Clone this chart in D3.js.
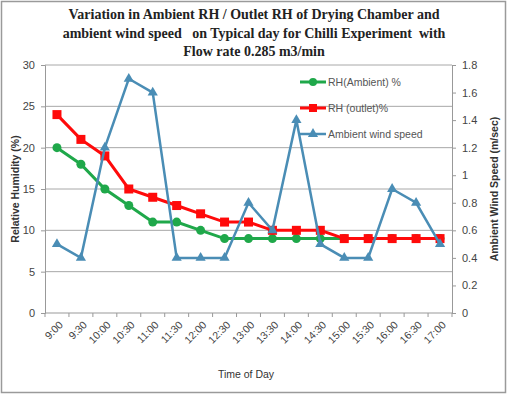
<!DOCTYPE html>
<html>
<head>
<meta charset="utf-8">
<script src="https://cdn.jsdelivr.net/npm/d3@7"></script>
<style>
  body { margin: 0; background: #fff; }
  svg { display: block; }
  .title { font-family: "Liberation Serif", "DejaVu Serif", serif; white-space: pre; }
  .lab { font-family: "Liberation Sans", Arial, sans-serif; }
</style>
</head>
<body>
<div id="chart"></div>
<script>
const times = ["9:00","9:30","10:00","10:30","11:00","11:30","12:00","12:30","13:00",
  "13:30","14:00","14:30","15:00","15:30","16:00","16:30","17:00"];
const rhAmbient = [20,18,15,13,11,11,10,9,9,9,9,9,9,9,9,9,9];
const rhOutlet = [24,21,19,15,14,13,12,11,11,10,10,10,9,9,9,9,9];
const windSpeed = [0.5,0.4,1.2,1.7,1.6,0.4,0.4,0.4,0.8,0.6,1.4,0.5,0.4,0.4,0.9,0.8,0.5];
const leftTicks = [0,5,10,15,20,25,30];
const rightTicks = [0,0.2,0.4,0.6,0.8,1,1.2,1.4,1.6,1.8];
const titleLines = ["Variation in Ambient RH / Outlet RH of Drying Chamber and",
  "ambient wind speed   on Typical day for Chilli Experiment  with",
  "Flow rate 0.285 m3/min"];

const width = 507, height = 394;
const margin = {left: 45, right: 55, top: 65, bottom: 81};

const svg = d3.select("#chart").append("svg")
    .attr("width", width)
    .attr("height", height);

// frame
svg.append("rect")
    .attr("x", 1.5).attr("y", 1.5)
    .attr("width", width - 3).attr("height", height - 3)
    .attr("fill", "#fff").attr("stroke", "#9a9a9a").attr("stroke-width", 1.5);

const x = d3.scaleBand()
    .domain(times)
    .range([margin.left, width - margin.right]);

const yLeft = d3.scaleLinear()
    .domain([0, 30])
    .range([height - margin.bottom, margin.top]);

const yRight = d3.scaleLinear()
    .domain([0, 1.8])
    .range([height - margin.bottom, margin.top]);

// gridlines
svg.append("g")
    .selectAll("line")
    .data(leftTicks.filter(d => d > 0))
    .join("line")
    .attr("x1", margin.left).attr("x2", width - margin.right)
    .attr("y1", d => yLeft(d)).attr("y2", d => yLeft(d))
    .attr("stroke", "#a8a8a8").attr("stroke-width", 1);

// left axis
const leftAxis = svg.append("g")
    .attr("transform", `translate(${margin.left},0)`)
    .call(d3.axisLeft(yLeft).tickValues(leftTicks).tickSize(4).tickPadding(6));
leftAxis.select(".domain").attr("stroke", "#999");
leftAxis.selectAll(".tick line").attr("stroke", "#999");
leftAxis.selectAll("text").attr("class", "lab").attr("font-family", null)
    .attr("font-size", 11).attr("fill", "#444");

// right axis
const rightAxis = svg.append("g")
    .attr("transform", `translate(${width - margin.right},0)`)
    .call(d3.axisRight(yRight).tickValues(rightTicks).tickSize(4).tickPadding(6)
      .tickFormat(d => d3.format("~g")(d)));
rightAxis.select(".domain").attr("stroke", "#999");
rightAxis.selectAll(".tick line").attr("stroke", "#999");
rightAxis.selectAll("text").attr("class", "lab")
    .attr("font-size", 11).attr("fill", "#444");
leftAxis.attr("font-family", null);
rightAxis.attr("font-family", null);

// bottom axis
const xAxis = svg.append("g")
    .attr("transform", `translate(0,${height - margin.bottom})`);
xAxis.append("line")
    .attr("x1", margin.left).attr("x2", width - margin.right)
    .attr("stroke", "#999");
xAxis.selectAll(".tickmark")
    .data(times.concat(["end"]))
    .join("line")
    .attr("class", "tickmark")
    .attr("x1", (d, i) => margin.left + i * x.step())
    .attr("x2", (d, i) => margin.left + i * x.step())
    .attr("y1", 0).attr("y2", 4)
    .attr("stroke", "#999");
xAxis.selectAll(".lbl")
    .data(times)
    .join("text")
    .attr("class", "lab")
    .attr("transform", d => `translate(${x(d) + x.bandwidth() / 2 + 4},${10}) rotate(-45)`)
    .attr("text-anchor", "end")
    .attr("dy", "0.35em")
    .attr("font-size", 10.5)
    .attr("fill", "#444")
    .text(d => d);

const cx = d => x(d) + x.bandwidth() / 2;

// series
const lineLeft = d3.line().x((d, i) => cx(times[i])).y(d => yLeft(d));
const lineRight = d3.line().x((d, i) => cx(times[i])).y(d => yRight(d));

const green = "#1fa84a", red = "#ff0a0a", blue = "#4a8db5";

svg.append("path").datum(rhAmbient).attr("d", lineLeft)
    .attr("fill", "none").attr("stroke", green).attr("stroke-width", 3);
svg.append("g").selectAll("circle").data(rhAmbient).join("circle")
    .attr("cx", (d, i) => cx(times[i])).attr("cy", d => yLeft(d))
    .attr("r", 4.5).attr("fill", green);

svg.append("path").datum(rhOutlet).attr("d", lineLeft)
    .attr("fill", "none").attr("stroke", red).attr("stroke-width", 3);
svg.append("g").selectAll("rect").data(rhOutlet).join("rect")
    .attr("x", (d, i) => cx(times[i]) - 4.5).attr("y", d => yLeft(d) - 4.5)
    .attr("width", 9).attr("height", 9).attr("fill", red);

svg.append("path").datum(windSpeed).attr("d", lineRight)
    .attr("fill", "none").attr("stroke", blue).attr("stroke-width", 2.5);
const tri = d3.symbol().type(d3.symbolTriangle).size(45);
svg.append("g").selectAll("path").data(windSpeed).join("path")
    .attr("transform", (d, i) => `translate(${cx(times[i])},${yRight(d)})`)
    .attr("d", tri).attr("fill", blue);

// legend
const legend = [
  {name: "RH(Ambient) %", color: green, shape: "circle"},
  {name: "RH (outlet)%", color: red, shape: "square"},
  {name: "Ambient wind speed", color: blue, shape: "triangle"}
];
const lg = svg.append("g").attr("transform", "translate(300,82)");
legend.forEach((l, i) => {
  const g = lg.append("g").attr("transform", `translate(0,${i * 26})`);
  g.append("line").attr("x1", 0).attr("x2", 26).attr("stroke", l.color)
      .attr("stroke-width", l.shape === "triangle" ? 2.5 : 3);
  if (l.shape === "circle") g.append("circle").attr("cx", 13).attr("r", 4).attr("fill", l.color);
  else if (l.shape === "square") g.append("rect").attr("x", 9).attr("y", -4).attr("width", 8).attr("height", 8).attr("fill", l.color);
  else g.append("path").attr("transform", "translate(13,0)").attr("d", tri).attr("fill", l.color);
  g.append("text").attr("class", "lab").attr("x", 28).attr("dy", "0.35em")
      .attr("font-size", 10.5).attr("fill", "#555").text(l.name);
});

// titles
svg.append("g").selectAll("text").data(titleLines).join("text")
    .attr("class", "title")
    .attr("x", 254).attr("y", (d, i) => 19 + i * 18.5)
    .attr("text-anchor", "middle")
    .attr("font-weight", "bold").attr("font-size", 14).attr("fill", "#222")
    .text(d => d);

svg.append("text")
    .attr("class", "lab")
    .attr("transform", `translate(15,${(margin.top + height - margin.bottom) / 2}) rotate(-90)`)
    .attr("text-anchor", "middle").attr("dy", "0.35em")
    .attr("font-weight", "bold").attr("font-size", 10.5).attr("fill", "#333")
    .text("Relative Humidity (%)");

svg.append("text")
    .attr("class", "lab")
    .attr("transform", `translate(494,${(margin.top + height - margin.bottom) / 2}) rotate(-90)`)
    .attr("text-anchor", "middle").attr("dy", "0.35em")
    .attr("font-weight", "bold").attr("font-size", 10.5).attr("fill", "#333")
    .text("Ambient Wind Speed (m/sec)");

svg.append("text")
    .attr("class", "lab")
    .attr("x", 246).attr("y", 378)
    .attr("text-anchor", "middle")
    .attr("font-size", 10.5).attr("fill", "#333")
    .text("Time of Day");
</script>
</body>
</html>
